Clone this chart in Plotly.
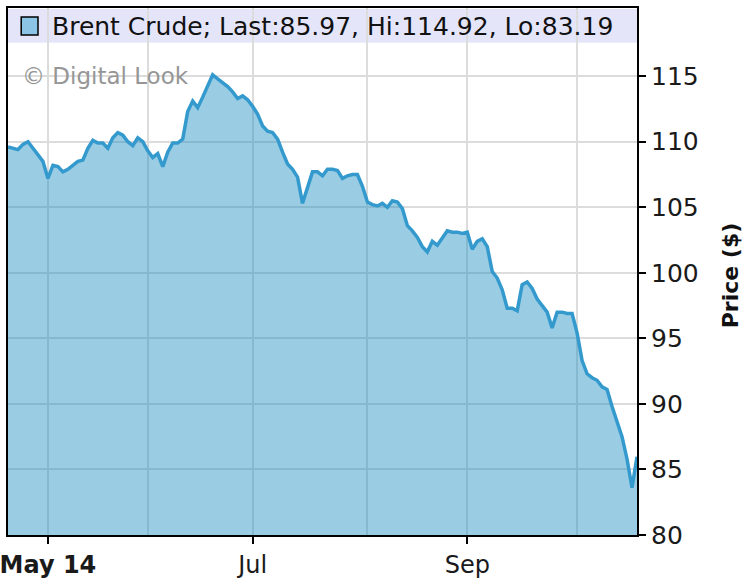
import pandas as pd
import plotly.graph_objects as go

# ---- data ----
holidays = ["2014-04-18", "2014-04-21", "2014-05-05", "2014-05-26", "2014-08-25"]
dates = pd.bdate_range("2014-04-17", "2014-10-17", freq="C", holidays=holidays)

prices = [
    109.6, 109.5, 109.4, 109.8, 110.0, 109.5, 109.0, 108.5, 107.2, 108.2,
    108.1, 107.7, 107.9, 108.2, 108.5, 108.6, 109.5, 110.1, 109.9, 109.9,
    109.5, 110.3, 110.7, 110.5, 110.0, 109.7, 110.3, 110.0, 109.3, 108.8,
    109.1, 108.1, 109.2, 109.9, 109.9, 110.2, 112.3, 113.1, 112.6, 113.4,
    114.3, 115.1, 114.8, 114.5, 114.2, 113.8, 113.3, 113.5, 113.2, 112.7,
    112.1, 111.2, 110.8, 110.7, 110.2, 109.2, 108.3, 107.9, 107.3, 105.3,
    106.4, 107.7, 107.7, 107.4, 107.9, 107.9, 107.8, 107.2, 107.4, 107.5,
    107.5, 106.6, 105.4, 105.2, 105.1, 105.3, 105.0, 105.5, 105.4, 104.9,
    103.6, 103.2, 102.7, 102.0, 101.6, 102.4, 102.1, 102.6, 103.2, 103.1,
    103.1, 103.0, 103.1, 101.8, 102.4, 102.6, 102.0, 100.1, 99.6, 98.7,
    97.3, 97.3, 97.1, 99.1, 99.3, 98.8, 98.0, 97.5, 97.0, 95.8,
    97.0, 97.0, 96.9, 96.9, 95.4, 93.3, 92.3, 92.0, 91.8, 91.3,
    91.1, 89.8, 88.7, 87.5, 85.8, 83.6, 85.97,
]

major_ticks = ["2014-05-01", "2014-07-01", "2014-09-01"]
major_labels = ["<b>May 14</b>", "Jul", "Sep"]
minor_ticks = ["2014-06-02", "2014-08-01", "2014-10-01"]
y_ticks = [80, 85, 90, 95, 100, 105, 110, 115]

series_name = "Brent Crude"
last_v, hi_v, lo_v = 85.97, 114.92, 83.19

FONT = "DejaVu Sans"

fig = go.Figure()
fig.add_trace(go.Scatter(
    x=dates, y=prices, mode="lines",
    line=dict(color="rgb(52,154,206)", width=3.5),
    fill="tozeroy", fillcolor="rgba(22,139,192,0.43)",
    showlegend=False, hoverinfo="skip",
))

fig.update_layout(
    width=754, height=587,
    margin=dict(l=8, r=117, t=8, b=52, autoexpand=False),
    paper_bgcolor="white", plot_bgcolor="white",
    font=dict(family=FONT, size=25, color="#1a1a1a"),
    showlegend=False,
)

fig.update_xaxes(
    type="date", automargin=False, ticklabeloverflow="allow",
    range=[dates[0], dates[-1]],
    rangebreaks=[dict(bounds=["sat", "mon"]), dict(values=holidays)],
    tickmode="array", tickvals=major_ticks, ticktext=major_labels,
    ticks="outside", ticklen=7, tickwidth=2, tickcolor="black",
    showgrid=True, gridcolor="rgb(220,220,220)", gridwidth=2,
    minor=dict(tickmode="array", tickvals=minor_ticks, showgrid=True,
               gridcolor="rgb(220,220,220)", gridwidth=2, ticks=""),
    showline=True, linecolor="black", linewidth=2, mirror=True,
    tickfont=dict(family=FONT, size=24, color="#1a1a1a"),
    zeroline=False,
)

fig.update_yaxes(
    side="right", automargin=False, range=[80, 120.2],
    tickmode="array", tickvals=y_ticks,
    ticks="outside", ticklen=7, tickwidth=2, tickcolor="black",
    showgrid=True, gridcolor="rgb(220,220,220)", gridwidth=2,
    showline=True, linecolor="black", linewidth=2, mirror=True,
    tickfont=dict(family=FONT, size=25, color="#1a1a1a"),
    zeroline=False,
)

# legend band
fig.add_shape(type="rect", xref="paper", yref="paper", x0=0, x1=1, y0=0.934, y1=0.998,
              fillcolor="rgba(226,226,250,0.9)", line=dict(width=0), layer="below")
fig.add_shape(type="rect", xref="paper", yref="paper", x0=0.021, x1=0.0477, y0=0.949, y1=0.983,
              fillcolor="rgb(140,196,230)", line=dict(color="black", width=1.5))
fig.add_annotation(
    xref="paper", yref="paper", x=0.066, y=0.965, xanchor="left", yanchor="middle",
    text=f"{series_name}; Last:{last_v:.2f}, Hi:{hi_v:.2f}, Lo:{lo_v:.2f}",
    showarrow=False, font=dict(family=FONT, size=25, color="#111111"),
)
fig.add_annotation(
    xref="paper", yref="paper", x=0.019, y=0.871, xanchor="left", yanchor="middle",
    text="© Digital Look", showarrow=False,
    font=dict(family=FONT, size=23, color="rgb(150,150,150)"),
)
fig.add_annotation(
    xref="paper", yref="paper", x=1.148, y=0.493, xanchor="center", yanchor="middle",
    text="<b>Price ($)</b>", textangle=-90, showarrow=False,
    font=dict(family=FONT, size=22, color="#111111"),
)

fig.write_html("out.html", config={"displayModeBar": False},
               post_script="document.body.style.margin='0';")
